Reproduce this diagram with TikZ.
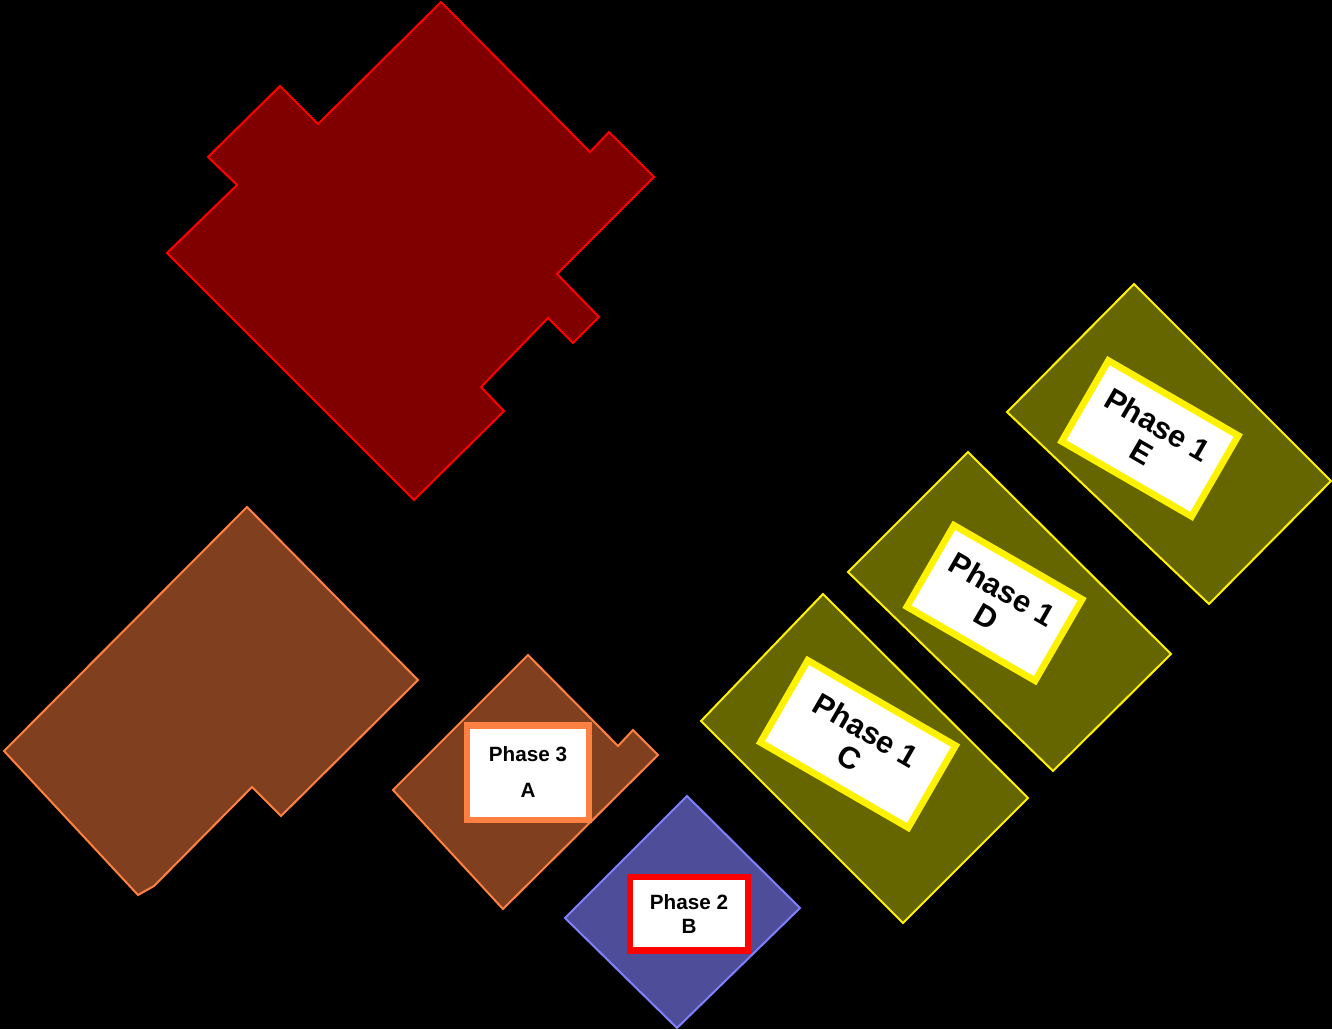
\documentclass[tikz,border=0pt]{standalone}
\usepackage{fontspec}
\setmainfont{Liberation Sans}
\usetikzlibrary{positioning}
\definecolor{maroonfill}{RGB}{128,0,0}
\definecolor{rustfill}{RGB}{128,64,32}
\definecolor{rustline}{RGB}{255,128,64}
\definecolor{lotblue}{RGB}{77,77,153}
\definecolor{lotblueline}{RGB}{128,128,255}
\definecolor{olivefill}{RGB}{102,102,0}

\begin{document}
\begin{tikzpicture}[x=0.75pt, y=-0.75pt,
    lot/.style={line width=1.5pt, line join=miter},
    phasebox/.style={draw, line width=5pt, fill=white, align=center,
                     inner sep=0pt}]
  % black ground
  \fill[black] (0,0) rectangle (1332,1029);
  \useasboundingbox (0,0) rectangle (1332,1029);
  % existing building
  \draw[lot, draw=red, fill=maroonfill]
    (441,2) -- (590,152) -- (609,132) -- (654,177) -- (557,274) -- (599,317)
    -- (573,343) -- (548,318) -- (481,387) -- (504,411) -- (414,500)
    -- (167,253) -- (237,185) -- (208,157) -- (280,86) -- (318,124) -- cycle;
  % phase 3 lots
  \draw[lot, draw=rustline, fill=rustfill]
    (247,507) -- (418,680) -- (281,816) -- (252,787) -- (154,886)
    -- (138,895) -- (4,751) -- cycle;
  \draw[lot, draw=rustline, fill=rustfill]
    (528,655) -- (618,746) -- (633,730) -- (658,755) -- (503,909)
    -- (393,790) -- cycle;
  % phase 2 lot
  \draw[lot, draw=lotblueline, fill=lotblue]
    (687,796) -- (800,908) -- (677,1028) -- (565,918) -- cycle;
  % phase 1 lots
  \draw[lot, draw=yellow, fill=olivefill]
    (823,594) -- (1028,798) -- (903,923) -- (701,721) -- cycle;
  \draw[lot, draw=yellow, fill=olivefill]
    (968,452) -- (1171,654) -- (1053,771) -- (848,572) -- cycle;
  \draw[lot, draw=yellow, fill=olivefill]
    (1134,284) -- (1331,481) -- (1209,604) -- (1007,412) -- cycle;

  % labels
  \node[phasebox, draw=rustline, minimum width=91.5pt, minimum height=71pt,
        font=\fontsize{15.5}{18}\selectfont\bfseries]
    (phaseA) at (528,772.5) {Phase 3\\[9pt]A};
  \node[phasebox, draw=red, minimum width=88.5pt, minimum height=55pt,
        font=\fontsize{15.5}{18}\selectfont\bfseries]
    (phaseB) at (689,913.5) {Phase 2\\B};
  \foreach \nm/\cx/\cy/\w/\h in {C/858/744/128/71, D/994.5/603/111/70.5,
                                 E/1150/438.5/112.5/70}
    \node[phasebox, draw=yellow, rotate=-30, minimum width=\w pt,
          minimum height=\h pt, font=\fontsize{23}{24}\selectfont\bfseries]
      (phase\nm) at (\cx,\cy) {Phase 1\\\nm};
\end{tikzpicture}
\end{document}
